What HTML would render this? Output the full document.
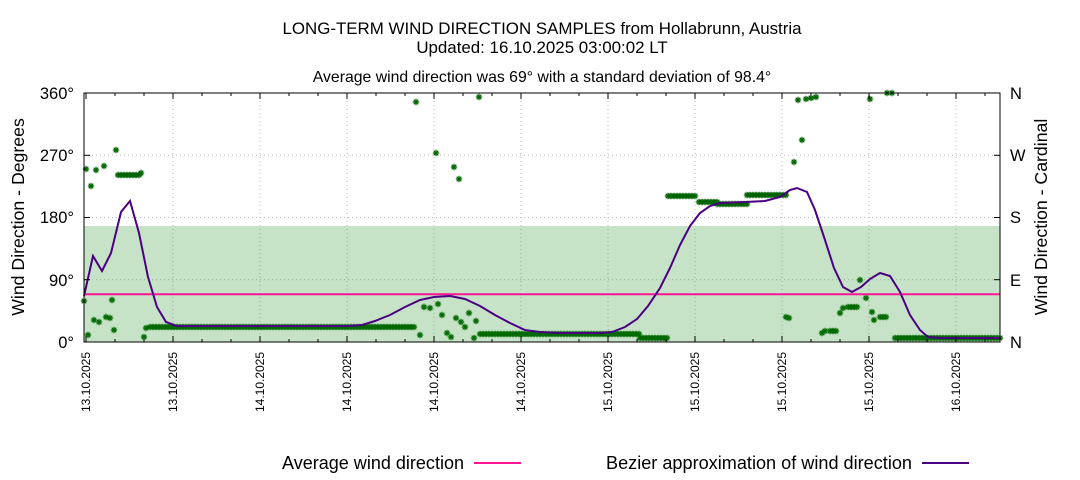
<!DOCTYPE html>
<html><head><meta charset="utf-8"><style>
body{margin:0;background:#fff}
svg{display:block;font-family:"Liberation Sans",sans-serif}
</style></head><body>
<svg id="s" width="1080" height="480" xmlns="http://www.w3.org/2000/svg">
<defs>
<symbol id="st" viewBox="-4 -4 8 8" overflow="visible">
<path d="M-3.2 0H3.2M0 -3.2V3.2M-2.3 -2.3L2.3 2.3M-2.3 2.3L2.3 -2.3" stroke="#006400" stroke-width="1.2" fill="none"/>
</symbol>
</defs>
<text x="542" y="34" font-size="16.9" text-anchor="middle">LONG-TERM WIND DIRECTION SAMPLES from Hollabrunn, Austria</text>
<text x="542" y="53" font-size="16.9" text-anchor="middle">Updated: 16.10.2025 03:00:02 LT</text>
<text x="542" y="82" font-size="15.8" text-anchor="middle">Average wind direction was 69° with a standard deviation of 98.4°</text>
<g id="grid" stroke="#bbb" stroke-width="1" stroke-dasharray="1,3"></g>
<g id="pts"></g>
<rect x="84" y="226" width="916" height="116" fill="#008000" fill-opacity="0.22"/>
<line x1="84" y1="294.3" x2="1000" y2="294.3" stroke="#ff1493" stroke-width="2"/>
<polyline id="bz" fill="none" stroke="#4b0082" stroke-width="2"/>
<rect x="84" y="93" width="916" height="249" fill="none" stroke="#000" stroke-width="1"/>
<g id="ticks" stroke="#000" stroke-width="1"></g>
<g font-size="16.5" text-anchor="end">
<text x="74" y="99">360°</text><text x="74" y="161">270°</text><text x="74" y="223">180°</text><text x="74" y="286">90°</text><text x="74" y="348">0°</text>
</g>
<g font-size="16.5">
<text x="1010" y="99">N</text><text x="1010" y="161">W</text><text x="1010" y="223">S</text><text x="1010" y="286">E</text><text x="1010" y="348">N</text>
</g>
<text transform="translate(24,217) rotate(-90)" font-size="17.7" text-anchor="middle">Wind Direction - Degrees</text>
<text transform="translate(1047,217) rotate(-90)" font-size="17.7" text-anchor="middle">Wind Direction - Cardinal</text>
<g id="dl" font-size="12" text-anchor="end"></g>
<text x="464" y="469" font-size="18" text-anchor="end" textLength="182" lengthAdjust="spacingAndGlyphs">Average wind direction</text>
<line x1="474" y1="463" x2="521" y2="463" stroke="#ff1493" stroke-width="2"/>
<text x="912" y="469" font-size="18" text-anchor="end" textLength="306" lengthAdjust="spacingAndGlyphs">Bezier approximation of wind direction</text>
<line x1="922" y1="463" x2="969" y2="463" stroke="#4b0082" stroke-width="2"/>
</svg>
<script>
var NS="http://www.w3.org/2000/svg";
function el(p,t,a){var e=document.createElementNS(NS,t);for(var k in a)e.setAttribute(k,a[k]);p.appendChild(e);return e;}
var grid=document.getElementById('grid'),ticks=document.getElementById('ticks'),dl=document.getElementById('dl');
var dates=["13.10.2025","13.10.2025","14.10.2025","14.10.2025","14.10.2025","14.10.2025","15.10.2025","15.10.2025","15.10.2025","15.10.2025","16.10.2025"];
for(var i=0;i<11;i++){var x=86+87*i;
 if(i>0)el(grid,'line',{x1:x,y1:93,x2:x,y2:342});
 el(ticks,'line',{x1:x,y1:342,x2:x,y2:336});el(ticks,'line',{x1:x,y1:93,x2:x,y2:99});
 var t=el(dl,'text',{transform:'translate('+(x+4)+',352) rotate(-90)',textLength:60,lengthAdjust:'spacingAndGlyphs'});t.textContent=dates[i];}
for(var x=86+29;x<1000;x+=29){el(ticks,'line',{x1:x,y1:342,x2:x,y2:339});el(ticks,'line',{x1:x,y1:93,x2:x,y2:96});}
[155.3,217.5,279.7].forEach(function(y){el(grid,'line',{x1:84,y1:y,x2:1000,y2:y});});
[93,155.3,217.5,279.7,342].forEach(function(y){el(ticks,'line',{x1:84,y1:y,x2:90,y2:y});el(ticks,'line',{x1:994,y1:y,x2:1000,y2:y});});
var pts=document.getElementById('pts');
function P(x,y){el(pts,'use',{href:'#st',x:x-4,y:y-4,width:8,height:8});}
function R(a,b,y,s){for(var x=a;x<=b;x+=(s||3))P(x,y);}
[[84,301],[86,169],[91,186],[96,170],[104,166],[116,150],[141,173],[88,335],[94,320],[99,322],[106,317],[110,318],[112,300],[114,330],[144,337],[146,328],[416,102],[436,153],[454,167],[459,179],[420,335],[424,307],[430,308],[438,304],[442,315],[447,333],[451,337],[456,318],[461,322],[465,327],[469,313],[474,338],[476,321],[479,97],
[786,317],[789,318],[794,162],[798,100],[802,140],[806,99],[811,98],[816,97],[822,333],[825,331],[840,313],[843,308],[860,280],[866,298],[870,99],[872,312],[874,320],[887,93],[892,93]].forEach(function(p){P(p[0],p[1]);});
R(118,140,175);R(150,415,327);R(480,640,334);R(640,668,338);R(668,697,196);R(699,717,202);R(717,748,204);R(747,787,195);R(830,838,331);R(848,858,307);R(880,886,317);R(895,1000,338);
var bz=[[84,296],[93,256],[102,271],[111,253],[121,212],[130,201],[139,233],[148,277],[157,307],[166,322],[177,326],[190,326],[260,326],[347,326],[362,325],[375,321],[390,315],[405,307],[420,300],[434,297],[450,296],[465,299],[480,306],[495,315],[510,323],[525,330],[540,332],[560,333],[600,333],[612,332],[625,327],[637,319],[648,306],[660,288],[670,268],[680,245],[690,226],[700,213],[710,206],[720,203],[745,202],[765,201],[780,197],[790,190],[797,188],[807,192],[815,210],[825,240],[834,268],[843,287],[852,292],[861,287],[870,279],[880,273],[890,276],[900,292],[910,315],[920,330],[928,337],[940,338],[1000,338]];
document.getElementById('bz').setAttribute('points',bz.map(function(p){return p.join(',');}).join(' '));
</script>
</body></html>
